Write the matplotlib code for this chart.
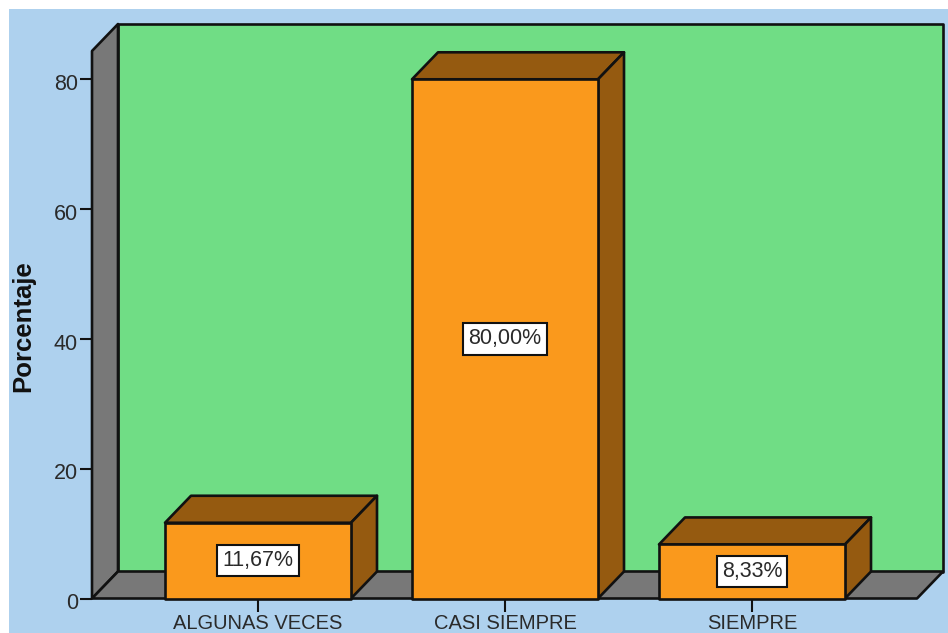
import matplotlib
matplotlib.use('Agg')
import matplotlib.pyplot as plt
from matplotlib.patches import Polygon, Rectangle
from matplotlib.transforms import ScaledTranslation

categories = ['ALGUNAS VECES', 'CASI SIEMPRE', 'SIEMPRE']
values     = [11.67, 80.00, 8.33]
labels     = ['11,67%', '80,00%', '8,33%']
yticks     = [0, 20, 40, 60, 80]

W, H = 948, 633
BLUE   = '#AED1EE'
GREEN  = '#70DD85'
GREY   = '#787878'
ORANGE = '#FA991C'
BROWN  = '#955A10'
EDGE   = '#111111'
TEXT   = '#2a2a2a'

plt.rcParams['font.family'] = ['Liberation Sans', 'DejaVu Sans']

fig = plt.figure(figsize=(W / 100, H / 100), dpi=100, facecolor='white')
fig.patches.append(Rectangle((9 / W, 0), 1 - 9 / W, 1 - 9 / H, transform=fig.transFigure,
                             facecolor=BLUE, edgecolor='none', zorder=-5))

# front plane of the 3D box, pixels
left, right, top, bottom = 92, 917, 51, 598.5
ax = fig.add_axes([left / W, 1 - bottom / H, (right - left) / W, (bottom - top) / H])
ax.patch.set_visible(False)
for s in ax.spines.values():
    s.set_visible(False)

step = 247.0
ax.set_xlim((left - 258) / step, (right - 258) / step)
ax.set_ylim(0, (bottom - top) / 6.49)

dx = 26 / step      # depth in data units
dy = 27 / 6.49
x0, x1 = ax.get_xlim()
y1 = ax.get_ylim()[1]
bw = 186 / step


def box(pts, color, z):
    ax.add_patch(Polygon(pts, closed=True, facecolor=color, edgecolor=EDGE, linewidth=1.9,
                         joinstyle='round', clip_on=False, zorder=z))


# walls
box([(x0 + dx, dy), (x1 + dx, dy), (x1 + dx, y1 + dy), (x0 + dx, y1 + dy)], GREEN, 1)
box([(x0, 0), (x0 + dx, dy), (x0 + dx, y1 + dy), (x0, y1)], GREY, 2)
box([(x0, 0), (x1, 0), (x1 + dx, dy), (x0 + dx, dy)], GREY, 2)

# bars
for i, v in enumerate(values):
    l, r = i - bw / 2, i + bw / 2
    box([(l, v), (r, v), (r + dx, v + dy), (l + dx, v + dy)], BROWN, 3)
    box([(r, 0), (r + dx, dy), (r + dx, v + dy), (r, v)], BROWN, 3)
    box([(l, 0), (r, 0), (r, v), (l, v)], ORANGE, 4)
    ax.text(i, v / 2, labels[i], ha='center', va='center', fontsize=15.5, color=TEXT, zorder=6,
            bbox=dict(boxstyle='square,pad=0.24', facecolor='white', edgecolor=EDGE, linewidth=1.5))

ax.set_xticks(range(len(categories)))
ax.set_xticklabels(categories, fontsize=14.5, color=TEXT)
ax.set_yticks(yticks)
ax.set_yticklabels([str(t) for t in yticks], fontsize=15.5, color=TEXT)
ax.tick_params(axis='x', length=9, width=1.5, color=EDGE, pad=2)
ax.tick_params(axis='y', length=9, width=1.5, color=EDGE, pad=1)
# y labels sit a little under their ticks in the original
nudge = ScaledTranslation(0, -2 / 72, fig.dpi_scale_trans)
for t in ax.get_yticklabels():
    t.set_transform(t.get_transform() + nudge)
ax.set_ylabel('Porcentaje', fontsize=18.5, fontweight='bold', color='#111111', labelpad=0)
ax.yaxis.set_label_coords((35 - left) / (right - left), (bottom - 326) / (bottom - top))

fig.savefig('out.png', dpi=100, facecolor='white')
plt.close(fig)
